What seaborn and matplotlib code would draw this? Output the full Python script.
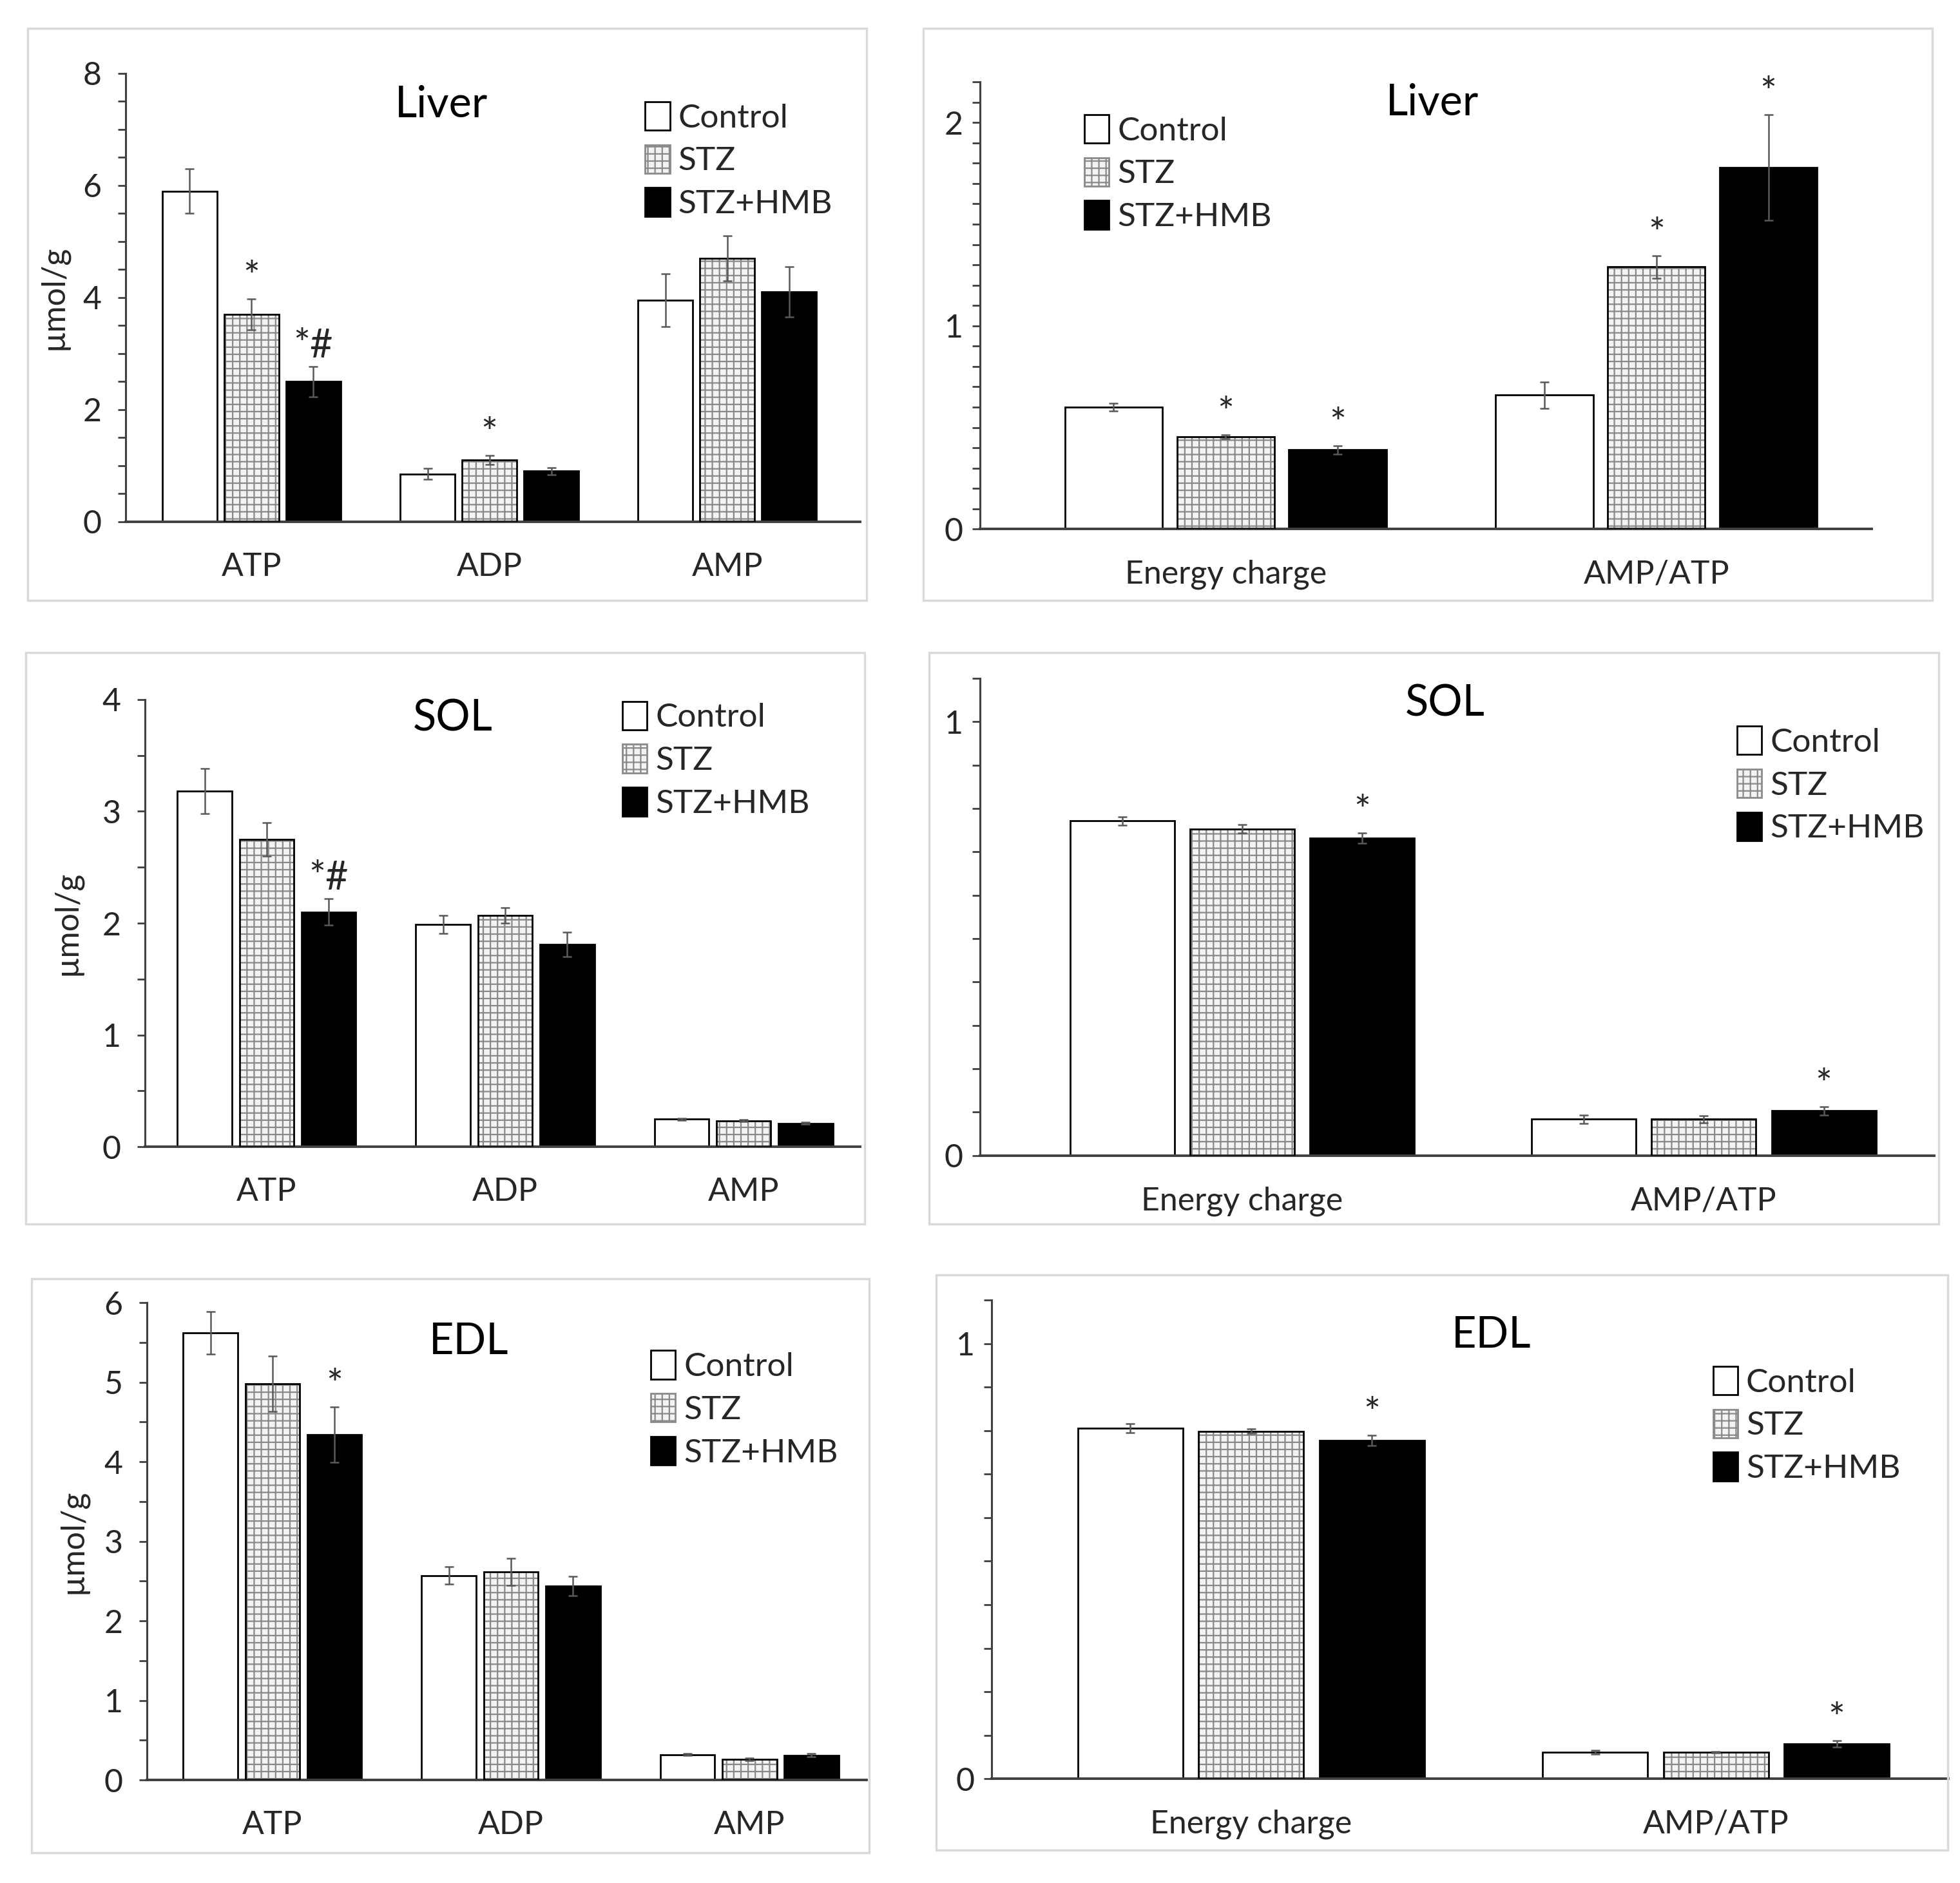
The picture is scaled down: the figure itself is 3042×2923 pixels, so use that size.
import numpy as np
import pandas as pd
import matplotlib
matplotlib.use("Agg")
import matplotlib.pyplot as plt
from matplotlib.patches import Patch, Rectangle
from matplotlib.ticker import MultipleLocator
import seaborn as sns

# ---- data ----
treatments = ["Control", "STZ", "STZ+HMB"]
nucleotides = ["ATP", "ADP", "AMP"]
ratios = ["Energy charge", "AMP/ATP"]

# rows = treatment, columns = category
liver_abs_mean = [[5.90, 0.85, 3.95], [3.70, 1.10, 4.70], [2.50, 0.90, 4.10]]
liver_abs_err = [[0.40, 0.10, 0.47], [0.28, 0.08, 0.40], [0.27, 0.06, 0.45]]
liver_ratio_mean = [[0.60, 0.66], [0.455, 1.29], [0.39, 1.78]]
liver_ratio_err = [[0.02, 0.065], [0.01, 0.055], [0.02, 0.26]]

sol_abs_mean = [[3.18, 1.99, 0.247], [2.75, 2.07, 0.233], [2.10, 1.81, 0.21]]
sol_abs_err = [[0.20, 0.08, 0.01], [0.15, 0.07, 0.01], [0.12, 0.11, 0.01]]
sol_ratio_mean = [[0.771, 0.084], [0.753, 0.084], [0.732, 0.103]]
sol_ratio_err = [[0.01, 0.01], [0.01, 0.008], [0.012, 0.01]]

edl_abs_mean = [[5.62, 2.57, 0.32], [4.98, 2.62, 0.26], [4.34, 2.44, 0.31]]
edl_abs_err = [[0.27, 0.11, 0.01], [0.35, 0.17, 0.02], [0.35, 0.12, 0.02]]
edl_ratio_mean = [[0.806, 0.061], [0.799, 0.061], [0.778, 0.080]]
edl_ratio_err = [[0.01, 0.004], [0.005, 0.002], [0.012, 0.008]]

# significance marks: (category index, treatment index, text)
liver_abs_sig = [(0, 1, "*"), (0, 2, "*#"), (1, 1, "*")]
liver_ratio_sig = [(0, 1, "*"), (0, 2, "*"), (1, 1, "*"), (1, 2, "*")]
sol_abs_sig = [(0, 2, "*#")]
sol_ratio_sig = [(0, 2, "*"), (1, 2, "*")]
edl_abs_sig = [(0, 2, "*")]
edl_ratio_sig = [(0, 2, "*"), (1, 2, "*")]

sns.set_theme(style="white")
plt.rcParams['font.family'] = ['Lato', 'DejaVu Sans']
plt.rcParams['hatch.linewidth'] = 0.8

FONT = 18
fill = {"Control": "white", "STZ": "#f3f3f3", "STZ+HMB": "black"}
hatch_grey = "#8a8a8a"

fig = plt.figure(figsize=(15.21, 14.615), dpi=200)
fig.patch.set_facecolor("white")

# light frames round every panel
frames = [[0.014, 0.681, 0.428, 0.304], [0.471, 0.681, 0.515, 0.304],
          [0.013, 0.350, 0.428, 0.3035], [0.474, 0.350, 0.515, 0.3035],
          [0.016, 0.016, 0.4276, 0.305], [0.4776, 0.0173, 0.516, 0.3055]]
for fr in frames:
    fig.patches.append(Rectangle((fr[0], fr[1]), fr[2], fr[3], transform=fig.transFigure,
                                 fill=False, edgecolor="#d9d9d9", linewidth=1.2))

panels = [
    dict(rect=[0.064, 0.723, 0.375, 0.238], cats=nucleotides, mean=liver_abs_mean, err=liver_abs_err,
         sig=liver_abs_sig, ymax=8, major=2, minor=0.5, title="Liver", tpos=(0.43, 0.93),
         leg=(0.707, 0.937), ylabel=True, ylx=-0.077, gap=0.12, xlim=(-0.53, 2.56)),
    dict(rect=[0.500, 0.719, 0.455, 0.2375], cats=ratios, mean=liver_ratio_mean, err=liver_ratio_err,
         sig=liver_ratio_sig, ymax=2.2, major=1, minor=0.1, title="Liver", tpos=(0.507, 0.952),
         leg=(0.117, 0.927), ylabel=False, gap=0.13, xlim=(-0.57, 1.5)),
    dict(rect=[0.074, 0.391, 0.365, 0.2375], cats=nucleotides, mean=sol_abs_mean, err=sol_abs_err,
         sig=sol_abs_sig, ymax=4, major=1, minor=0.5, title="SOL", tpos=(0.43, 0.958),
         leg=(0.667, 0.996), ylabel=True, ylx=-0.088, gap=0.12, xlim=(-0.51, 2.49)),
    dict(rect=[0.500, 0.3863, 0.487, 0.2535], cats=ratios, mean=sol_ratio_mean, err=sol_ratio_err,
         sig=sol_ratio_sig, ymax=1.1, major=1, minor=0.1, title="SOL", tpos=(0.487, 0.947),
         leg=(0.793, 0.9), ylabel=False, gap=0.13, xlim=(-0.568, 1.5)),
    dict(rect=[0.075, 0.0547, 0.367, 0.2535], cats=nucleotides, mean=edl_abs_mean, err=edl_abs_err,
         sig=edl_abs_sig, ymax=6, major=1, minor=0.5, title="EDL", tpos=(0.447, 0.918),
         leg=(0.70, 0.9), ylabel=True, ylx=-0.082, gap=0.12, xlim=(-0.526, 2.49)),
    dict(rect=[0.506, 0.0554, 0.488, 0.2541], cats=ratios, mean=edl_ratio_mean, err=edl_ratio_err,
         sig=edl_ratio_sig, ymax=1.1, major=1, minor=0.1, title="EDL", tpos=(0.522, 0.927),
         leg=(0.754, 0.862), ylabel=False, gap=0.13, xlim=(-0.558, 1.5)),
]

for p in panels:
    ax = fig.add_axes(p["rect"])
    rows = []
    for ti, t in enumerate(treatments):
        for ci, c in enumerate(p["cats"]):
            rows.append({"category": c, "treatment": t,
                         "value": p["mean"][ti][ci], "err": p["err"][ti][ci]})
    df = pd.DataFrame(rows)

    sns.barplot(data=df, x="category", y="value", hue="treatment",
                order=p["cats"], hue_order=treatments, palette=fill,
                edgecolor="black", linewidth=1.0, errorbar=None,
                width=0.78, gap=p["gap"], legend=False, ax=ax)

    # hatch the STZ bars, error bars from the library's bar geometry
    bar_groups = list(ax.containers)
    for ti, cont in enumerate(bar_groups):
        t = treatments[ti]
        errs = df[df.treatment == t].set_index("category").loc[p["cats"], "err"].values
        xs = [b.get_x() + b.get_width() / 2 for b in cont.patches]
        hs = [b.get_height() for b in cont.patches]
        if t == "STZ":
            for b in cont.patches:
                b.set_edgecolor(hatch_grey)
                b.set_hatch("+++")
                b.set_linewidth(0)
                ax.add_patch(Rectangle((b.get_x(), 0), b.get_width(), b.get_height(),
                                       fill=False, edgecolor="black", linewidth=1.0, zorder=3))
        ax.errorbar(xs, hs, yerr=errs, fmt="none", ecolor="#595959",
                    elinewidth=0.9, capsize=2.5, capthick=0.9, zorder=4)
        for ci, ti2, txt in p["sig"]:
            if ti2 == ti:
                ax.annotate(txt, (xs[ci], hs[ci] + errs[ci]),
                            xytext=(0, 1), textcoords="offset points",
                            ha="center", va="bottom", fontsize=22, color="#262626")

    ax.set_ylim(0, p["ymax"])
    ax.set_xlim(*p["xlim"])
    ax.yaxis.set_major_locator(MultipleLocator(p["major"]))
    ax.yaxis.set_minor_locator(MultipleLocator(p["minor"]))
    ax.tick_params(axis="y", which="both", direction="out", length=4.5, width=1.0,
                   color="#404040", left=True, labelsize=FONT, pad=9 if p["ylabel"] else 5)
    ax.tick_params(axis="x", length=0, labelsize=FONT, pad=17)
    for s in ["top", "right"]:
        ax.spines[s].set_visible(False)
    ax.spines["left"].set_color("#404040")
    ax.spines["left"].set_linewidth(1.1)
    ax.spines["bottom"].set_color("#404040")
    ax.spines["bottom"].set_linewidth(1.4)
    ax.set_xlabel("")
    if p["ylabel"]:
        ax.set_ylabel("\u00b5mol/g", fontsize=FONT)
        ax.yaxis.set_label_coords(p["ylx"], 0.5)
    else:
        ax.set_ylabel("")
    ax.set_facecolor("none")

    ax.text(p["tpos"][0], p["tpos"][1], p["title"], transform=ax.transAxes,
            ha="center", va="center", fontsize=24, color="black")

    handles = [Patch(facecolor="white", edgecolor="black", linewidth=1.0),
               Patch(facecolor=fill["STZ"], edgecolor=hatch_grey, hatch="+++", linewidth=1.0),
               Patch(facecolor="black", edgecolor="black", linewidth=1.0)]
    ax.legend(handles, treatments, loc="upper left", bbox_to_anchor=p["leg"],
              frameon=False, fontsize=18.5, handlelength=0.75, handleheight=0.95,
              handletextpad=0.25, labelspacing=0.35, borderpad=0, borderaxespad=0)

fig.savefig("out.png", dpi=200, facecolor="white")
